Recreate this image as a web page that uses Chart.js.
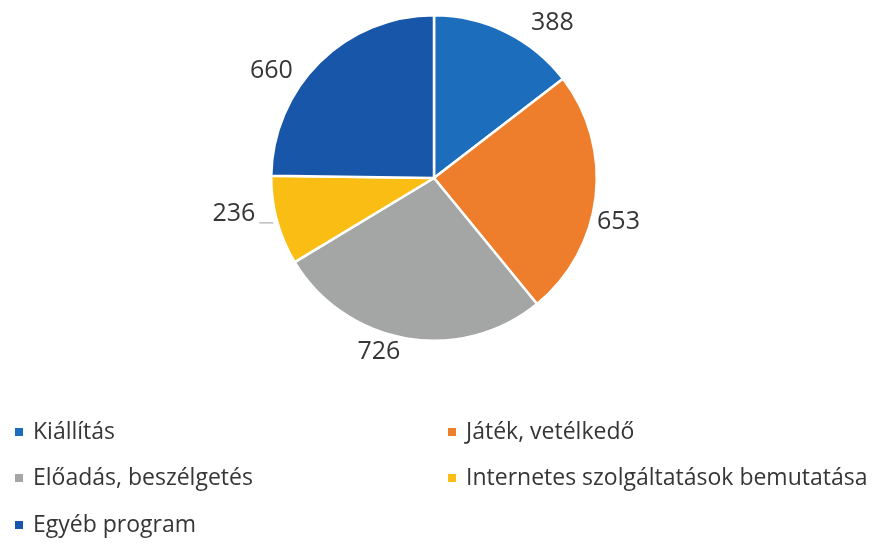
<!DOCTYPE html>
<html>
<head>
<meta charset="utf-8">
<script src="https://cdn.jsdelivr.net/npm/chart.js@4"></script>
<style>
  html, body { margin: 0; padding: 0; background: #fff; }
  #wrap { width: 876px; height: 544px; position: relative; }
</style>
</head>
<body>
<div id="wrap"><canvas id="chart"></canvas></div>
<script>
// data
const categories = ['Kiállítás', 'Játék, vetélkedő', 'Előadás, beszélgetés', 'Internetes szolgáltatások bemutatása', 'Egyéb program'];
const counts = [388, 653, 726, 236, 660];
const colors = ['#1d6dbd', '#ef7e2c', '#a4a6a5', '#f9bd14', '#1856a9'];

// value labels outside the slices
const outsideLabels = {
  id: 'outsideLabels',
  afterDatasetsDraw(chart, args, opts) {
    const ctx = chart.ctx;
    const meta = chart.getDatasetMeta(0);
    ctx.save();
    ctx.font = opts.font;
    ctx.fillStyle = opts.color;
    ctx.textAlign = 'center';
    ctx.textBaseline = 'middle';
    meta.data.forEach((arc, i) => {
      const p = arc.getProps(['x', 'y', 'startAngle', 'endAngle', 'outerRadius'], true);
      const a = (p.startAngle + p.endAngle) / 2;
      const r = p.outerRadius + opts.distance;
      const n = opts.nudge[i] || [0, 0];
      const x = p.x + Math.cos(a) * r + n[0];
      const y = p.y + Math.sin(a) * r + n[1];
      ctx.fillText(String(chart.data.datasets[0].data[i]), x, y);
      if (opts.leader[i]) {
        const w = ctx.measureText(String(chart.data.datasets[0].data[i])).width;
        ctx.strokeStyle = '#9a9a9a';
        ctx.lineWidth = 1;
        ctx.beginPath();
        ctx.moveTo(x + w / 2 + 4, y + 9.5);
        ctx.lineTo(x + w / 2 + 18, y + 9.5);
        ctx.stroke();
      }
    });
    ctx.restore();
  }
};

// two column legend under the pie
const gridLegend = {
  id: 'gridLegend',
  afterDraw(chart, args, opts) {
    const ctx = chart.ctx;
    const bg = chart.data.datasets[0].backgroundColor;
    ctx.save();
    ctx.font = opts.font;
    ctx.textBaseline = 'middle';
    ctx.textAlign = 'left';
    chart.data.labels.forEach((lab, i) => {
      const x = opts.cols[i % 2];
      const y = opts.rows[Math.floor(i / 2)];
      ctx.fillStyle = bg[i];
      ctx.fillRect(x, y - opts.box / 2, opts.box, opts.box);
      ctx.fillStyle = opts.color;
      ctx.fillText(lab, x + opts.box + 10, y);
    });
    ctx.restore();
  }
};

new Chart(document.getElementById('chart'), {
  type: 'pie',
  data: {
    labels: categories,
    datasets: [{
      data: counts,
      backgroundColor: colors,
      borderColor: '#ffffff',
      borderWidth: 2.5
    }]
  },
  options: {
    responsive: true,
    maintainAspectRatio: false,
    animation: false,
    layout: { padding: { left: 270, right: 278, top: 14, bottom: 202 } },
    plugins: {
      legend: { display: false },
      tooltip: { enabled: false },
      outsideLabels: {
        font: '25px "Open Sans"',
        color: '#363636',
        distance: 26,
        nudge: [[35, 14], [-3, 22], [-23, -12], [-18, -14], [-30, 27]],
        leader: [false, false, false, true, false]
      },
      gridLegend: {
        font: '23px "Open Sans"',
        color: '#363636',
        box: 8,
        cols: [15, 448],
        rows: [432, 478, 525]
      }
    }
  },
  plugins: [outsideLabels, gridLegend]
});
</script>
</body>
</html>
